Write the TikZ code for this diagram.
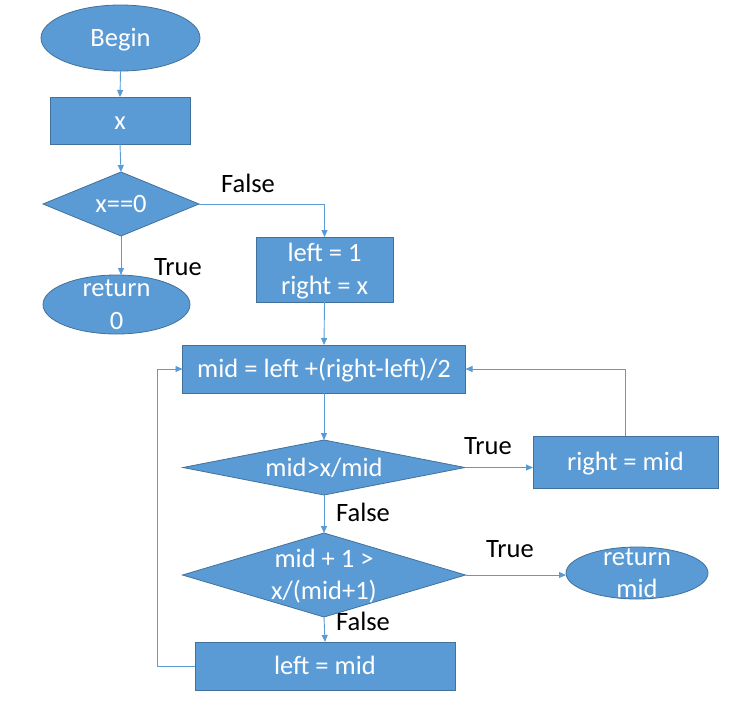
\documentclass[tikz,border=0pt]{standalone}
\usepackage{fontspec}
\setmainfont{Carlito}
\usetikzlibrary{shapes.geometric,arrows.meta}
\definecolor{fillb}{HTML}{5B9BD5}
\definecolor{edgeb}{HTML}{41719C}
\newcommand\mytxt[1]{\makebox[0pt]{\raisebox{-8.3pt}[0pt][0pt]{\begin{tabular}{@{}c@{}}#1\end{tabular}}}}
\begin{document}
\begin{tikzpicture}[x=1pt,y=-1pt,
  font=\fontsize{26.5}{32.5}\selectfont,
  shp/.style={draw=edgeb, fill=fillb, text=white, line width=0.8pt, inner sep=0pt, outer sep=0pt},
  proc/.style={shp, rectangle},
  term/.style={shp, ellipse},
  dec/.style={shp, diamond},
  lbl/.style={text=black, inner sep=0pt},
  arr/.style={draw=fillb, line width=0.9pt, -{Triangle[length=7pt,width=6pt]}}]
\useasboundingbox (0,0) rectangle (744,718);
\fill[white] (0,0) rectangle (744,718);
% nodes
\node[term, minimum width=159, minimum height=66] (begin) at (120.5,38) {\mytxt{Begin}};
\node[proc, minimum width=140, minimum height=47] (xin) at (120,120.5) {\mytxt{x}};
\node[dec, minimum width=156, minimum height=64] (xz) at (121,204) {\mytxt{x==0}};
\node[term, minimum width=147, minimum height=59] (ret0) at (116.5,304.5) {\mytxt{return\\0}};
\node[proc, minimum width=137, minimum height=65] (init) at (324.5,269.5) {\mytxt{left = 1\\right = x}};
\node[proc, minimum width=283, minimum height=48] (mid) at (324,369) {\mytxt{mid = left +(right-left)/2}};
\node[dec, minimum width=282, minimum height=55] (d1) at (324,467.5) {\mytxt{mid>x/mid}};
\node[proc, minimum width=185, minimum height=52] (rm) at (625.5,462) {\mytxt{right = mid}};
\node[dec, minimum width=283, minimum height=84] (d2) at (324,575) {\mytxt{mid + 1 >\\x/(mid+1)}};
\node[term, minimum width=142, minimum height=52] (retm) at (637,573) {\mytxt{return\\mid}};
\node[proc, minimum width=260, minimum height=48] (lm) at (325,666) {\mytxt{left = mid}};
% labels
\node[lbl] (lf1) at (248,183) {False};
\node[lbl] (lt1) at (178,267) {True};
\node[lbl] (lt2) at (488,446) {True};
\node[lbl] (lf2) at (363,512) {False};
\node[lbl] (lt3) at (510,549) {True};
\node[lbl] (lf3) at (363,621) {False};
\coordinate (lp) at (157,666);
% connectors
\draw[arr] (begin.south) -- (xin.north);
\draw[arr] (xin.south) -- (xz.north);
\draw[arr] (xz.south) -- (xz.south |- ret0.north);
\draw[arr] (xz.east) -| (init.north);
\draw[arr] (init.south) -- (mid.north);
\draw[arr] (mid.south) -- (d1.north);
\draw[arr] (d1.east) -- (d1.east -| rm.west);
\draw[arr] (rm.north) |- (mid.east);
\draw[arr] (d1.south) -- (d2.north);
\draw[arr] (d2.east) -- (d2.east -| retm.west);
\draw[arr] (d2.south) -- (lm.north);
\draw[arr] (lm.west) -- (lp) |- (mid.west);
\end{tikzpicture}
\end{document}
